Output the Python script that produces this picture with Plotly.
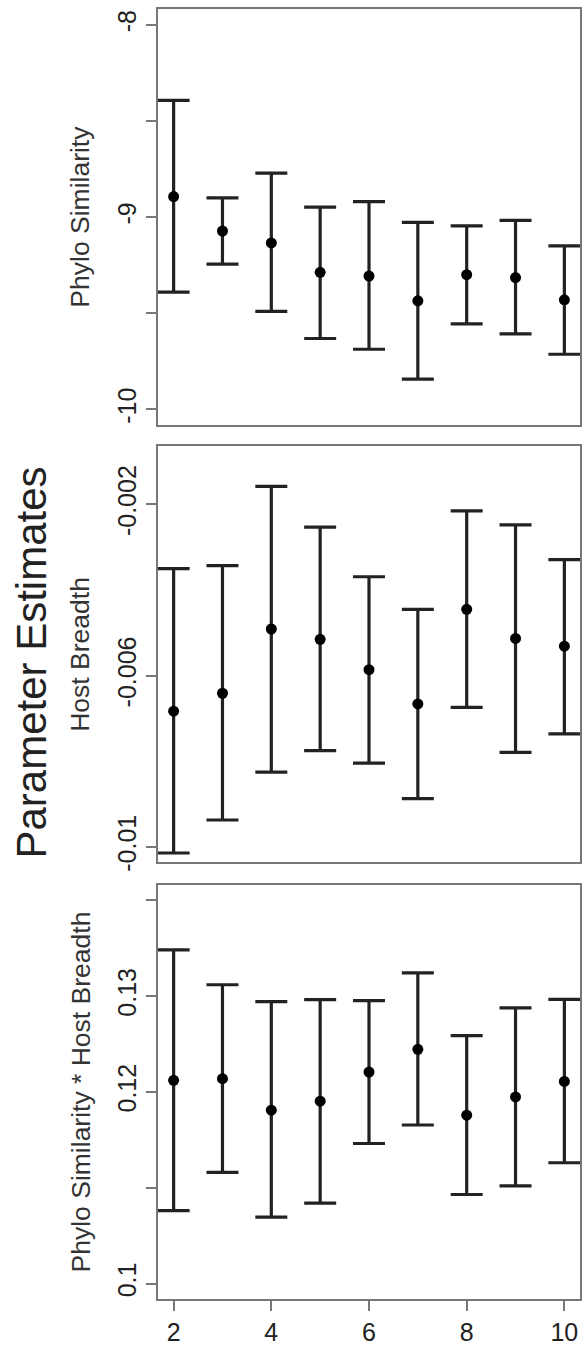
import plotly.graph_objects as go

# ---- data ----
window = [2, 3, 4, 5, 6, 7, 8, 9, 10]

phylo_est = [-8.893, -9.072, -9.134, -9.287, -9.306, -9.435, -9.299, -9.314, -9.430]
phylo_hi = [-8.393, -8.900, -8.771, -8.948, -8.919, -9.027, -9.045, -9.017, -9.149]
phylo_lo = [-9.390, -9.244, -9.490, -9.631, -9.687, -9.842, -9.555, -9.607, -9.713]

host_est = [-0.00683, -0.00641, -0.00491, -0.00515, -0.00586, -0.00666, -0.00445, -0.00513, -0.00531]
host_hi = [-0.00350, -0.00343, -0.00158, -0.00253, -0.00369, -0.00445, -0.00215, -0.00248, -0.00329]
host_lo = [-0.01014, -0.00937, -0.00825, -0.00775, -0.00804, -0.00887, -0.00674, -0.00779, -0.00736]

inter_est = [0.12121, 0.12138, 0.11810, 0.11903, 0.12207, 0.12445, 0.11758, 0.11948, 0.12110]
inter_hi = [0.13481, 0.13118, 0.12942, 0.12963, 0.12953, 0.13242, 0.12587, 0.12877, 0.12966]
inter_lo = [0.10761, 0.11161, 0.10695, 0.10840, 0.11462, 0.11655, 0.10930, 0.11020, 0.11261]

x_ticks = [2, 4, 6, 8, 10]
phylo_ticks = [-10, -9.5, -9, -8.5, -8]
phylo_ticktext = ["-10", "", "-9", "", "-8"]
host_ticks = [-0.01, -0.006, -0.002]
host_ticktext = ["-0.01", "-0.006", "-0.002"]
inter_ticks = [0.10, 0.11, 0.12, 0.13, 0.14]
inter_ticktext = ["0.1", "", "0.12", "0.13", ""]

panel_titles = ["Phylo Similarity", "Host Breadth", "Phylo Similarity * Host Breadth"]
main_title = "Parameter Estimates"

# ---- figure ----
W, H = 584, 1352
FONT = "Liberation Sans, Arial, Helvetica, sans-serif"
LINE = "#777777"
BAR = "#222222"

x_dom = [158 / W, 580 / W]
y_doms = [
    [1 - 427.7 / H, 1 - 9.5 / H],
    [1 - 868.2 / H, 1 - 449.1 / H],
    [1 - 1307.7 / H, 1 - 890.8 / H],
]
y_ranges = [[-10.08, -7.92], [-0.01036, -0.00064], [0.0984, 0.1416]]
y_tickvals = [phylo_ticks, host_ticks, inter_ticks]
y_ticktexts = [phylo_ticktext, host_ticktext, inter_ticktext]
series = [
    (phylo_est, phylo_hi, phylo_lo),
    (host_est, host_hi, host_lo),
    (inter_est, inter_hi, inter_lo),
]

fig = go.Figure()
for i, (est, hi, lo) in enumerate(series):
    sfx = "" if i == 0 else str(i + 1)
    fig.add_trace(go.Scatter(
        x=window, y=est, mode="markers",
        xaxis="x" + sfx, yaxis="y" + sfx,
        marker=dict(color="black", size=11),
        error_y=dict(
            type="data", symmetric=False,
            array=[h - e for h, e in zip(hi, est)],
            arrayminus=[e - l for e, l in zip(est, lo)],
            color=BAR, thickness=3.2, width=16,
        ),
        showlegend=False, hoverinfo="skip",
    ))
    bottom = (i == 2)
    fig.update_layout(**{
        "xaxis" + sfx: dict(
            domain=x_dom, range=[1.68, 10.32], anchor="y" + sfx,
            showline=True, mirror=True, linecolor=LINE, linewidth=2,
            showgrid=False, zeroline=False,
            ticks="outside" if bottom else "", ticklen=10, tickwidth=1.5, tickcolor=LINE,
            tickvals=x_ticks if bottom else [], showticklabels=bottom,
            tickfont=dict(size=25, color="#222", family=FONT),
        ),
        "yaxis" + sfx: dict(
            domain=y_doms[i], range=y_ranges[i], anchor="x" + sfx,
            showline=True, mirror=True, linecolor=LINE, linewidth=2,
            showgrid=False, zeroline=False,
            ticks="outside", ticklen=10, tickwidth=1.5, tickcolor=LINE,
            tickvals=y_tickvals[i], ticktext=y_ticktexts[i],
            tickangle=-90,
            tickfont=dict(size=25, color="#222", family=FONT),
        ),
    })
    yc = (y_doms[i][0] + y_doms[i][1]) / 2
    fig.add_annotation(
        text=panel_titles[i], x=80.5 / W, y=yc, xref="paper", yref="paper",
        xanchor="center", yanchor="middle", textangle=-90, showarrow=False,
        font=dict(size=26.5, color="#333", family=FONT),
    )

fig.add_annotation(
    text=main_title, x=32 / W, y=1 - 667 / H, xref="paper", yref="paper",
    xanchor="center", yanchor="middle", textangle=-90, showarrow=False,
    font=dict(size=42, color="#222", family=FONT),
)

fig.update_layout(
    width=W, height=H, margin=dict(l=0, r=0, t=0, b=0),
    paper_bgcolor="white", plot_bgcolor="white",
    font=dict(family=FONT, color="#222"),
)

fig.write_html(
    "out.html",
    config={"displayModeBar": False},
    post_script="document.body.style.margin='0';document.body.style.overflow='hidden';",
)
